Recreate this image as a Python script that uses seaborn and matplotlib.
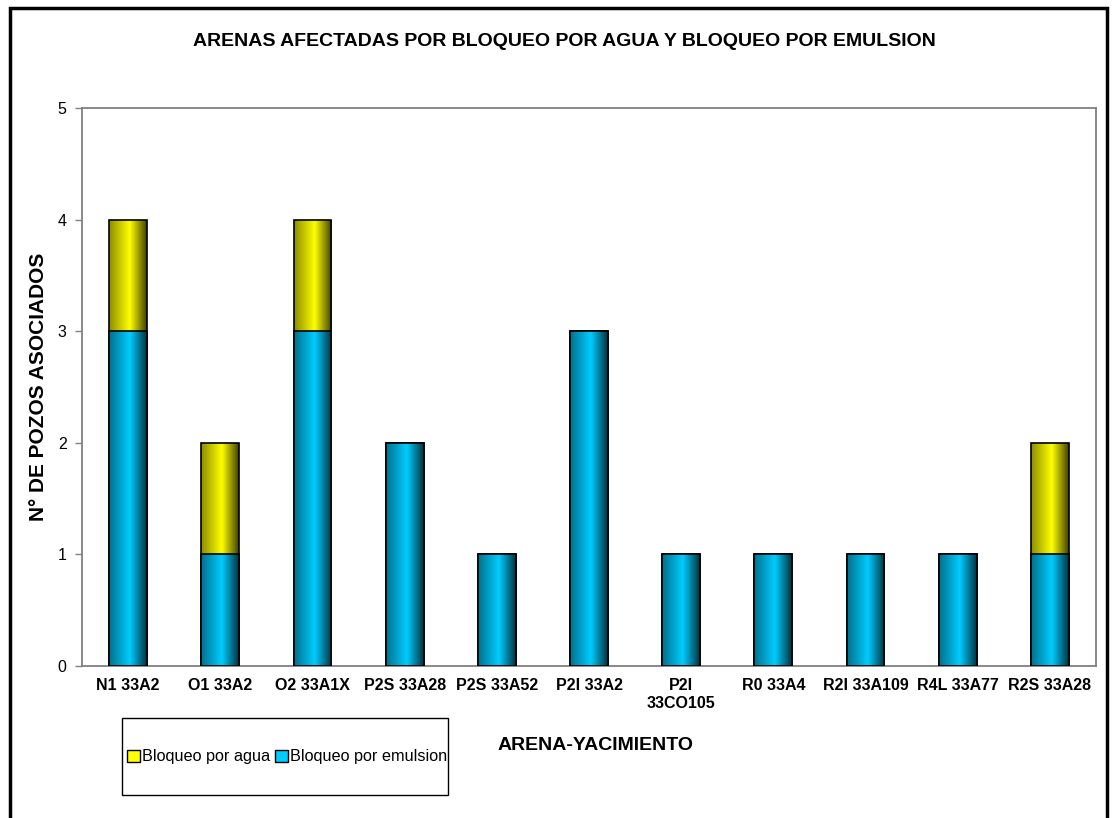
import numpy as np
import pandas as pd
import matplotlib
matplotlib.use("Agg")
import matplotlib.pyplot as plt
import seaborn as sns
from matplotlib.colors import LinearSegmentedColormap, to_rgb
from matplotlib.patches import Rectangle, Patch

# --- data ---
categories = ["N1 33A2", "O1 33A2", "O2 33A1X", "P2S 33A28", "P2S 33A52", "P2I 33A2",
              "P2I\n33CO105", "R0 33A4", "R2I 33A109", "R4L 33A77", "R2S 33A28"]
emulsion = [3, 1, 3, 2, 1, 3, 1, 1, 1, 1, 1]
agua = [1, 1, 1, 0, 0, 0, 0, 0, 0, 0, 1]
series_names = ["Bloqueo por agua", "Bloqueo por emulsion"]
y_ticks = [0, 1, 2, 3, 4, 5]

CYAN = "#00CCFF"
YELLOW = "#FFFF00"

sns.set_theme(style="white")
plt.rcParams["font.family"] = ["Liberation Sans", "DejaVu Sans"]
plt.rcParams["text.color"] = "black"
plt.rcParams["xtick.color"] = "black"
plt.rcParams["ytick.color"] = "black"

df = pd.DataFrame({"arena": categories,
                   "emulsion": emulsion,
                   "total": np.array(emulsion) + np.array(agua)})

fig = plt.figure(figsize=(11.16, 8.18), dpi=100)
ax = fig.add_axes([82 / 1116, 1 - 666 / 818, (1096 - 82) / 1116, (666 - 108) / 818])

# stacked bars: total in yellow, emulsion in cyan on top of it
sns.barplot(data=df, x="arena", y="total", color=YELLOW, saturation=1,
            width=0.41, edgecolor="black", linewidth=1.2, ax=ax)
n_yellow = len(ax.patches)
sns.barplot(data=df, x="arena", y="emulsion", color=CYAN, saturation=1,
            width=0.41, edgecolor="black", linewidth=1.2, ax=ax)


def shade_cmap(base):
    r, g, b = to_rgb(base)
    dark = (r * 0.25, g * 0.25, b * 0.25)
    mid = (r * 0.55, g * 0.55, b * 0.55)
    return LinearSegmentedColormap.from_list(
        "shade", [(0.0, mid), (0.55, (r, g, b)), (1.0, dark)])


# horizontal cylinder-like shading inside each bar
profile = np.linspace(0, 1, 256)[None, :]
for i, p in enumerate(ax.patches):
    h = p.get_height()
    if h <= 0:
        continue
    base = YELLOW if i < n_yellow else CYAN
    x0, y0 = p.get_x(), p.get_y()
    w = p.get_width()
    im = ax.imshow(profile, cmap=shade_cmap(base), aspect="auto",
                   extent=[x0, x0 + w, y0, y0 + h], zorder=2 + (i >= n_yellow) * 0.5,
                   interpolation="bicubic", vmin=0, vmax=1)
    im.set_clip_path(p)
    p.set_facecolor("none")
    p.set_zorder(2.2 + (i >= n_yellow) * 0.5)

ax.set_xlim(-0.5, len(categories) - 0.5)
ax.set_ylim(0, 5)
ax.set_yticks(y_ticks)
ax.set_yticklabels([str(t) for t in y_ticks], fontsize=11.5)
ax.set_xticks(range(len(categories)))
ax.set_xticklabels(categories, fontsize=11.5, fontweight="bold")
ax.set_xticks(np.arange(-0.5, len(categories), 1.0), minor=True)
ax.tick_params(axis="x", which="major", length=0, pad=9, labelcolor="black")
ax.tick_params(axis="x", which="minor", length=5, width=1, color="#808080", direction="out")
ax.tick_params(axis="y", which="major", length=5, width=1, color="#808080",
               direction="out", pad=6, left=True, labelcolor="black")
ax.set_xlabel("")
ax.set_ylabel("")
for s in ax.spines.values():
    s.set_visible(True)
    s.set_color("#808080")
    s.set_linewidth(1.3)
ax.grid(False)
ax.set_facecolor("white")

fig.text(564 / 1116, 1 - 42 / 818, "ARENAS AFECTADAS POR BLOQUEO POR AGUA Y BLOQUEO POR EMULSION",
         ha="center", va="center", fontsize=14, fontweight="bold", color="black")
fig.text(39 / 1116, 1 - 387 / 818, "N° DE POZOS ASOCIADOS", rotation=90,
         ha="center", va="center", fontsize=15, fontweight="bold", color="black")
fig.text(596 / 1116, 1 - 745 / 818, "ARENA-YACIMIENTO",
         ha="center", va="center", fontsize=14, fontweight="bold", color="black")

# legend box
fig.patches.append(Rectangle((122 / 1116, 1 - 795 / 818), 326 / 1116, 77 / 818,
                             transform=fig.transFigure, facecolor="white",
                             edgecolor="black", linewidth=1.0, zorder=1))
handles = [Patch(facecolor=YELLOW, edgecolor="black", linewidth=1.0),
           Patch(facecolor=CYAN, edgecolor="black", linewidth=1.0)]
fig.legend(handles, series_names, loc="center", ncol=2,
           bbox_to_anchor=(287 / 1116, 1 - 757 / 818), frameon=False,
           fontsize=11.7, handlelength=0.8, handleheight=0.8, handletextpad=0.15,
           columnspacing=0.3, borderpad=0, labelcolor="black")

# outer chart border
fig.patches.append(Rectangle((10 / 1116, -0.05), (1107 - 10) / 1116, 1.05 - 8 / 818,
                             transform=fig.transFigure, facecolor="none",
                             edgecolor="black", linewidth=2.5, zorder=5))

fig.savefig("out.png", dpi=100)
